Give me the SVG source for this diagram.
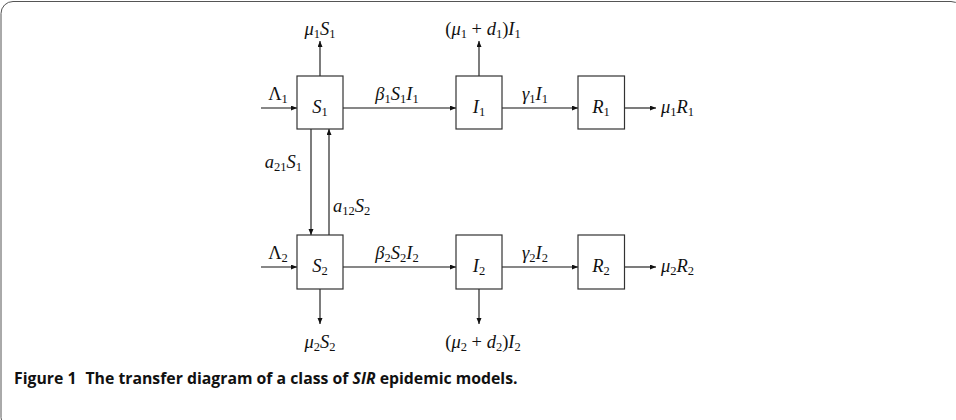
<svg xmlns="http://www.w3.org/2000/svg" width="956" height="420" viewBox="0 0 956 420">
<style>
.box{fill:#fff;stroke:#333;stroke-width:1.2}
.ln{stroke:#111;stroke-width:1.1;fill:none;marker-end:url(#ah)}
.m{font-family:"Liberation Serif",serif;font-style:italic;font-size:18.5px;fill:#111}
.r{font-style:normal}
.s{font-size:12.5px;font-style:normal}
.cap{font-family:"Open Sans","Noto Sans",sans-serif;font-weight:bold;font-size:15.8px;fill:#111}
</style>
<defs>
<marker id="ah" markerUnits="userSpaceOnUse" markerWidth="7" markerHeight="6" refX="6" refY="2.5" orient="auto">
<path d="M0,0 L6,2.5 L0,5 z" fill="#111"/>
</marker>
</defs>
<rect x="1" y="1.5" width="962" height="428" rx="12" fill="#fff" stroke="#555" stroke-width="1"/>

<g id="connectors">
<line class="ln" x1="261" y1="108" x2="297" y2="108"/>
<line class="ln" x1="343" y1="108" x2="456" y2="108"/>
<line class="ln" x1="502" y1="108" x2="578" y2="108"/>
<line class="ln" x1="624" y1="108" x2="656" y2="108"/>
<line class="ln" x1="320" y1="76" x2="320" y2="41"/>
<line class="ln" x1="479" y1="76" x2="479" y2="41"/>
<line class="ln" x1="311" y1="129" x2="311" y2="235"/>
<line class="ln" x1="329" y1="235" x2="329" y2="129"/>
<line class="ln" x1="261" y1="267" x2="297" y2="267"/>
<line class="ln" x1="343" y1="267" x2="456" y2="267"/>
<line class="ln" x1="502" y1="267" x2="578" y2="267"/>
<line class="ln" x1="624" y1="267" x2="656" y2="267"/>
<line class="ln" x1="320" y1="289" x2="320" y2="324"/>
<line class="ln" x1="479" y1="289" x2="479" y2="324"/>

<text class="m" x="278" y="100" text-anchor="middle"><tspan class="r">Λ</tspan><tspan class="s" dy="3">1</tspan></text>
<text class="m" x="397" y="100" text-anchor="middle">β<tspan class="s" dy="3">1</tspan><tspan dy="-3">S</tspan><tspan class="s" dy="3">1</tspan><tspan dy="-3">I</tspan><tspan class="s" dy="3">1</tspan></text>
<text class="m" x="535" y="100" text-anchor="middle">γ<tspan class="s" dy="3">1</tspan><tspan dy="-3">I</tspan><tspan class="s" dy="3">1</tspan></text>
<text class="m" x="661" y="113">μ<tspan class="s" dy="3">1</tspan><tspan dy="-3">R</tspan><tspan class="s" dy="3">1</tspan></text>
<text class="m" x="320" y="35" text-anchor="middle">μ<tspan class="s" dy="3">1</tspan><tspan dy="-3">S</tspan><tspan class="s" dy="3">1</tspan></text>
<text class="m" x="483" y="35" text-anchor="middle"><tspan class="r">(</tspan>μ<tspan class="s" dy="3">1</tspan><tspan class="r" dy="-3"> + </tspan>d<tspan class="s" dy="3">1</tspan><tspan class="r" dy="-3">)</tspan>I<tspan class="s" dy="3">1</tspan></text>
<text class="m" x="302" y="168" text-anchor="end">a<tspan class="s" dy="3">21</tspan><tspan dy="-3">S</tspan><tspan class="s" dy="3">1</tspan></text>
<text class="m" x="333" y="212">a<tspan class="s" dy="3">12</tspan><tspan dy="-3">S</tspan><tspan class="s" dy="3">2</tspan></text>

<text class="m" x="278" y="259" text-anchor="middle"><tspan class="r">Λ</tspan><tspan class="s" dy="3">2</tspan></text>
<text class="m" x="397" y="259" text-anchor="middle">β<tspan class="s" dy="3">2</tspan><tspan dy="-3">S</tspan><tspan class="s" dy="3">2</tspan><tspan dy="-3">I</tspan><tspan class="s" dy="3">2</tspan></text>
<text class="m" x="535" y="259" text-anchor="middle">γ<tspan class="s" dy="3">2</tspan><tspan dy="-3">I</tspan><tspan class="s" dy="3">2</tspan></text>
<text class="m" x="661" y="272">μ<tspan class="s" dy="3">2</tspan><tspan dy="-3">R</tspan><tspan class="s" dy="3">2</tspan></text>
<text class="m" x="320" y="348" text-anchor="middle">μ<tspan class="s" dy="3">2</tspan><tspan dy="-3">S</tspan><tspan class="s" dy="3">2</tspan></text>
<text class="m" x="483" y="348" text-anchor="middle"><tspan class="r">(</tspan>μ<tspan class="s" dy="3">2</tspan><tspan class="r" dy="-3"> + </tspan>d<tspan class="s" dy="3">2</tspan><tspan class="r" dy="-3">)</tspan>I<tspan class="s" dy="3">2</tspan></text>
</g>

<g id="S1"><rect class="box" x="297" y="76" width="46" height="53"/><text class="m" x="320" y="113" text-anchor="middle">S<tspan class="s" dy="3">1</tspan></text></g>
<g id="I1"><rect class="box" x="456" y="76" width="46" height="53"/><text class="m" x="479" y="113" text-anchor="middle">I<tspan class="s" dy="3">1</tspan></text></g>
<g id="R1"><rect class="box" x="578" y="76" width="46.5" height="53"/><text class="m" x="601" y="113" text-anchor="middle">R<tspan class="s" dy="3">1</tspan></text></g>
<g id="S2"><rect class="box" x="297" y="235" width="46" height="54"/><text class="m" x="320" y="272" text-anchor="middle">S<tspan class="s" dy="3">2</tspan></text></g>
<g id="I2"><rect class="box" x="456" y="235" width="46" height="54"/><text class="m" x="479" y="272" text-anchor="middle">I<tspan class="s" dy="3">2</tspan></text></g>
<g id="R2"><rect class="box" x="578" y="235" width="46.5" height="54"/><text class="m" x="601" y="272" text-anchor="middle">R<tspan class="s" dy="3">2</tspan></text></g>

<g id="caption">
<text class="cap" x="14" y="384">Figure 1<tspan dx="9">The transfer diagram of a class of </tspan><tspan font-style="italic">SIR</tspan> epidemic models.</text>
</g>
</svg>
